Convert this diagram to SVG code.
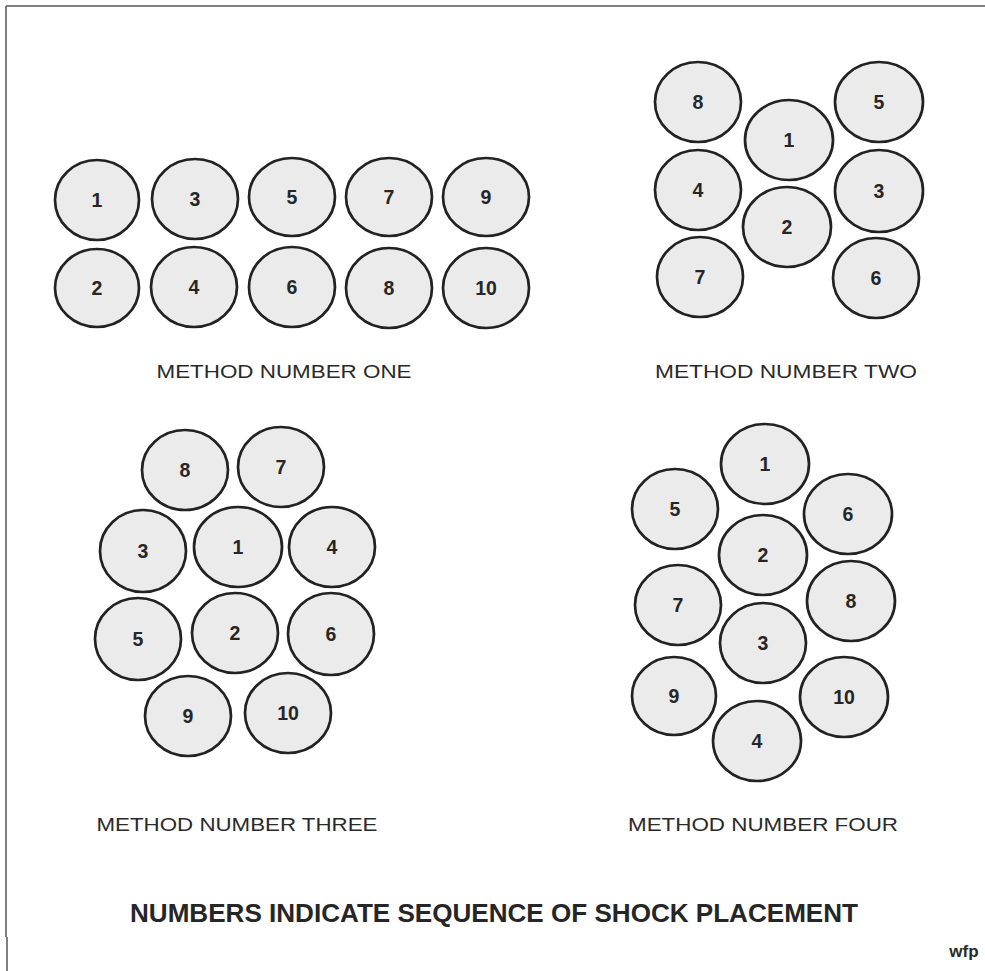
<svg xmlns="http://www.w3.org/2000/svg" width="985" height="971" viewBox="0 0 985 971">
<style>
.c{fill:#ebebeb;stroke:#222;stroke-width:2.7}
.n{font-family:"Liberation Sans",Arial,sans-serif;font-weight:bold;font-size:19.5px;fill:#262626;text-anchor:middle}
.l{font-family:"Liberation Sans",Arial,sans-serif;font-size:18.5px;fill:#2a2a2a;text-anchor:middle}
.t{font-family:"Liberation Sans",Arial,sans-serif;font-weight:bold;font-size:25px;fill:#262626;text-anchor:middle}
.b{stroke:#555;stroke-width:1.5;fill:none}
</style>
<rect width="985" height="971" fill="#fff"/>
<g id="frame">
<line class="b" x1="6" y1="6" x2="985" y2="6"/>
<line class="b" x1="6" y1="6" x2="6" y2="937"/>
<line class="b" x1="7" y1="937" x2="7" y2="971"/>
</g>
<g id="method-one">
<g id="m1-1"><ellipse class="c" cx="97" cy="200" rx="42" ry="40"/><text class="n" x="97" y="207">1</text></g>
<g id="m1-3"><ellipse class="c" cx="195" cy="199" rx="43" ry="40"/><text class="n" x="195" y="206">3</text></g>
<g id="m1-5"><ellipse class="c" cx="292" cy="197" rx="43" ry="39"/><text class="n" x="292" y="204">5</text></g>
<g id="m1-7"><ellipse class="c" cx="389" cy="197" rx="43" ry="39"/><text class="n" x="389" y="204">7</text></g>
<g id="m1-9"><ellipse class="c" cx="486" cy="197" rx="43" ry="39"/><text class="n" x="486" y="204">9</text></g>
<g id="m1-2"><ellipse class="c" cx="97" cy="288" rx="42" ry="39"/><text class="n" x="97" y="295">2</text></g>
<g id="m1-4"><ellipse class="c" cx="194" cy="287" rx="43" ry="40"/><text class="n" x="194" y="294">4</text></g>
<g id="m1-6"><ellipse class="c" cx="292" cy="287" rx="43" ry="40"/><text class="n" x="292" y="294">6</text></g>
<g id="m1-8"><ellipse class="c" cx="389" cy="288" rx="43" ry="40"/><text class="n" x="389" y="295">8</text></g>
<g id="m1-10"><ellipse class="c" cx="486" cy="288" rx="43" ry="40"/><text class="n" x="486" y="295">10</text></g>
<text class="l" x="284" y="378" textLength="255" lengthAdjust="spacingAndGlyphs">METHOD NUMBER ONE</text>
</g>
<g id="method-two">
<g id="m2-8"><ellipse class="c" cx="698" cy="102" rx="43" ry="40"/><text class="n" x="698" y="109">8</text></g>
<g id="m2-5"><ellipse class="c" cx="879" cy="102" rx="44" ry="40"/><text class="n" x="879" y="109">5</text></g>
<g id="m2-1"><ellipse class="c" cx="789" cy="140" rx="44" ry="40"/><text class="n" x="789" y="147">1</text></g>
<g id="m2-4"><ellipse class="c" cx="698" cy="190" rx="43" ry="40"/><text class="n" x="698" y="197">4</text></g>
<g id="m2-3"><ellipse class="c" cx="879" cy="191" rx="44" ry="41"/><text class="n" x="879" y="198">3</text></g>
<g id="m2-2"><ellipse class="c" cx="787" cy="227" rx="44" ry="40"/><text class="n" x="787" y="234">2</text></g>
<g id="m2-7"><ellipse class="c" cx="700" cy="277" rx="43" ry="40"/><text class="n" x="700" y="284">7</text></g>
<g id="m2-6"><ellipse class="c" cx="876" cy="278" rx="43" ry="40"/><text class="n" x="876" y="285">6</text></g>
<text class="l" x="786" y="378" textLength="262" lengthAdjust="spacingAndGlyphs">METHOD NUMBER TWO</text>
</g>
<g id="method-three">
<g id="m3-8"><ellipse class="c" cx="185" cy="470" rx="43" ry="40"/><text class="n" x="185" y="477">8</text></g>
<g id="m3-7"><ellipse class="c" cx="281" cy="467" rx="43" ry="40"/><text class="n" x="281" y="474">7</text></g>
<g id="m3-3"><ellipse class="c" cx="143" cy="551" rx="43" ry="41"/><text class="n" x="143" y="558">3</text></g>
<g id="m3-1"><ellipse class="c" cx="238" cy="547" rx="44" ry="40"/><text class="n" x="238" y="554">1</text></g>
<g id="m3-4"><ellipse class="c" cx="332" cy="547" rx="43" ry="40"/><text class="n" x="332" y="554">4</text></g>
<g id="m3-5"><ellipse class="c" cx="138" cy="639" rx="43" ry="41"/><text class="n" x="138" y="646">5</text></g>
<g id="m3-2"><ellipse class="c" cx="235" cy="633" rx="43" ry="40"/><text class="n" x="235" y="640">2</text></g>
<g id="m3-6"><ellipse class="c" cx="331" cy="634" rx="43" ry="41"/><text class="n" x="331" y="641">6</text></g>
<g id="m3-9"><ellipse class="c" cx="188" cy="716" rx="43" ry="40"/><text class="n" x="188" y="723">9</text></g>
<g id="m3-10"><ellipse class="c" cx="288" cy="713" rx="43" ry="40"/><text class="n" x="288" y="720">10</text></g>
<text class="l" x="237" y="831" textLength="281" lengthAdjust="spacingAndGlyphs">METHOD NUMBER THREE</text>
</g>
<g id="method-four">
<g id="m4-1"><ellipse class="c" cx="765" cy="464" rx="44" ry="40"/><text class="n" x="765" y="471">1</text></g>
<g id="m4-5"><ellipse class="c" cx="675" cy="509" rx="43" ry="40"/><text class="n" x="675" y="516">5</text></g>
<g id="m4-6"><ellipse class="c" cx="848" cy="514" rx="44" ry="40"/><text class="n" x="848" y="521">6</text></g>
<g id="m4-2"><ellipse class="c" cx="763" cy="555" rx="44" ry="40"/><text class="n" x="763" y="562">2</text></g>
<g id="m4-7"><ellipse class="c" cx="678" cy="605" rx="43" ry="40"/><text class="n" x="678" y="612">7</text></g>
<g id="m4-8"><ellipse class="c" cx="851" cy="601" rx="44" ry="40"/><text class="n" x="851" y="608">8</text></g>
<g id="m4-3"><ellipse class="c" cx="763" cy="643" rx="43" ry="40"/><text class="n" x="763" y="650">3</text></g>
<g id="m4-9"><ellipse class="c" cx="674" cy="696" rx="42" ry="39"/><text class="n" x="674" y="703">9</text></g>
<g id="m4-10"><ellipse class="c" cx="844" cy="697" rx="44" ry="40"/><text class="n" x="844" y="704">10</text></g>
<g id="m4-4"><ellipse class="c" cx="757" cy="741" rx="44" ry="40"/><text class="n" x="757" y="748">4</text></g>
<text class="l" x="763" y="831" textLength="270" lengthAdjust="spacingAndGlyphs">METHOD NUMBER FOUR</text>
</g>
<g id="notes">
<text class="t" x="494" y="922" textLength="728" lengthAdjust="spacingAndGlyphs">NUMBERS INDICATE SEQUENCE OF SHOCK PLACEMENT</text>
<text x="964" y="957" font-family="Liberation Sans,Arial,sans-serif" font-weight="bold" font-size="17" fill="#2a2a2a" text-anchor="middle">wfp</text>
</g>
</svg>
